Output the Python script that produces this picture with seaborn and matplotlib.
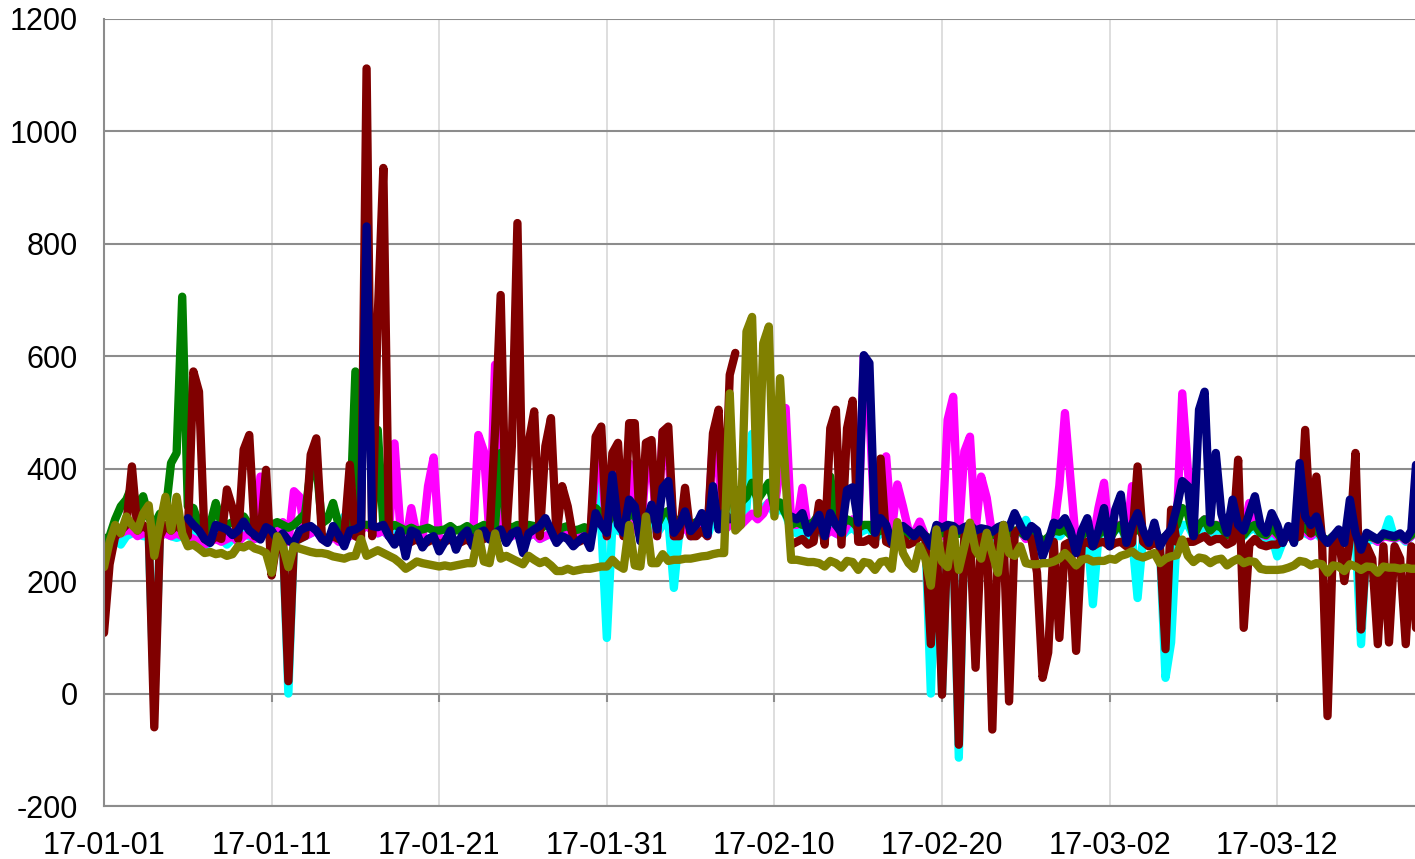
import numpy as np
import pandas as pd
import matplotlib
matplotlib.use("Agg")
import matplotlib.pyplot as plt
import matplotlib.dates as mdates
import seaborn as sns

# readings every 8 hours, starting 2017-01-01 00:00 (one line = 5 days)
start = "2017-01-01"
step = "8h"
x_end = "2017-03-20 05:15"

tick_dates = ["2017-01-01", "2017-01-11", "2017-01-21", "2017-01-31",
              "2017-02-10", "2017-02-20", "2017-03-02", "2017-03-12"]
y_ticks = [-200, 0, 200, 400, 600, 800, 1000, 1200]

series_names = ["Series1", "Series2", "Series3", "Series4", "Series5", "Series6"]
series_colors = ["#00FFFF", "#FF00FF", "#008000", "#800000", "#000080", "#808000"]

nan = np.nan

cyan_vals = [
    270, 265, 275, 265, 280, 285, 285, 280, 280, -20, 280, 285, 280, 277, 280,
    285, 290, 280, 260, 270, 280, 275, 265, 275, 280, 285, 280, 275, 280, 285,
    280, 275, 280, 0, 270, 275, 280, 285, 290, 280, 275, 285, 280, 315, 290,
    290, 295, 300, 290, 285, 290, 280, 285, 280, 270, 275, 280, 270, 275, 280,
    270, 275, 280, 270, 275, 280, 270, 280, 285, 275, 285, 290, 275, 280, 285,
    270, 280, 285, 275, 280, 285, 270, 280, 285, 275, 280, 285, 275, 398, 300,
    99, 300, 290, 285, 300, 300, 280, 300, 310, 285, 300, 310, 188, 290, 300,
    280, 290, 300, 280, 310, 300, 300, 320, 330, 320, 330, 462, 320, 330, 340,
    320, 330, 320, 290, 285, 290, 280, 283, 290, 280, 300, 285, 280, 290, 295,
    285, 290, 295, 275, 285, 290, 270, 280, 285, 280, 280, 285, 280, 0, 280,
    0, 280, 285, -114, 280, 285, 270, 280, 285, 260, 280, 285, 270, 280, 290,
    309, 285, 280, 250, 270, 285, 280, 290, 285, 260, 280, 290, 159, 280, 290,
    286, 290, 300, 270, 280, 170, 280, 270, 285, 260, 28, 91, 280, 300, 300,
    280, 290, 300, 285, 290, 290, 280, 290, 295, 280, 290, 295, 280, 275, 280,
    244, 270, 285, 270, 290, 285, 280, 285, 275, 270, 275, 280, 270, 290, 280,
    88, 270, 275, 270, 280, 310, 275, 280, 270, 280, 290,
]

magenta_vals = [
    270, 275, 280, 285, 290, 290, 280, 285, 285, 270, 280, 285, 280, 285, 280,
    280, 275, 270, 265, 270, 275, 270, 275, 280, 270, 280, 285, 275, 386, 300,
    280, 285, 305, 270, 360, 350, 280, 285, 290, 275, 270, 280, 270, 275, 280,
    285, 290, 300, 290, 285, 290, 280, 445, 300, 270, 330, 280, 275, 369, 420,
    270, 275, 280, 270, 275, 280, 270, 460, 431, 280, 585, 300, 275, 280, 290,
    270, 280, 285, 275, 280, 285, 270, 280, 285, 275, 280, 290, 275, 400, 420,
    280, 380, 400, 280, 410, 300, 280, 400, 420, 280, 466, 430, 280, 285, 300,
    280, 290, 300, 280, 450, 400, 290, 300, 310, 300, 310, 320, 310, 320, 340,
    330, 400, 508, 300, 300, 366, 290, 285, 300, 280, 290, 285, 280, 300, 310,
    290, 600, 500, 290, 300, 422, 290, 372, 333, 290, 285, 306, 280, 270, 285,
    280, 487, 528, 285, 431, 457, 290, 386, 348, 280, 285, 290, 280, 285, 290,
    275, 285, 280, 265, 275, 290, 370, 499, 380, 265, 280, 290, 270, 330, 375,
    270, 300, 300, 275, 369, 300, 280, 270, 290, 270, 280, 290, 300, 534, 398,
    280, 300, 310, 290, 300, 300, 280, 300, 300, 290, 339, 300, 285, 280, 290,
    280, 270, 285, 275, 300, 290, 280, 290, 278, 270, 280, 285, 275, 300, 280,
    265, 280, 278, 270, 280, 278, 276, 280, 272, 280, 300,
]

green_vals = [
    274, 280, 310, 333, 345, 369, 327, 351, 313, 300, 320, 320, 410, 428, 706,
    333, 330, 300, 280, 300, 339, 303, 300, 305, 310, 315, 300, 300, 300, 300,
    300, 305, 300, 295, 300, 310, 320, 398, 410, 303, 310, 339, 300, 295, 300,
    573, 300, 300, 300, 469, 300, 295, 300, 295, 290, 295, 290, 292, 295, 290,
    290, 292, 298, 290, 292, 298, 290, 295, 300, 292, 300, 428, 300, 295, 300,
    295, 300, 298, 292, 300, 295, 290, 295, 298, 290, 292, 296, 290, 330, 320,
    300, 320, 310, 300, 320, 315, 300, 315, 320, 300, 320, 325, 300, 310, 315,
    300, 305, 310, 300, 320, 315, 320, 350, 363, 340, 350, 375, 345, 360, 375,
    330, 340, 320, 300, 305, 300, 300, 305, 320, 300, 386, 300, 300, 310, 305,
    295, 300, 300, 285, 290, 290, 280, 285, 288, 282, 285, 288, 280, 275, 288,
    285, 288, 290, 284, 288, 290, 284, 286, 288, 282, 286, 290, 285, 290, 288,
    280, 285, 282, 270, 278, 290, 288, 292, 282, 268, 280, 292, 275, 282, 295,
    275, 292, 300, 275, 285, 295, 282, 275, 290, 272, 280, 285, 300, 330, 320,
    280, 300, 310, 290, 300, 295, 282, 300, 290, 282, 295, 300, 285, 282, 295,
    285, 272, 288, 275, 300, 295, 285, 292, 278, 272, 280, 285, 275, 300, 280,
    268, 280, 278, 274, 282, 280, 278, 282, 274, 282, 300,
]

maroon_vals = [
    108, 230, 280, 290, 300, 404, 290, 300, 290, -60, 280, 300, 290, 300, 290,
    280, 573, 537, 275, 270, 280, 275, 363, 330, 275, 434, 460, 280, 280, 398,
    210, 275, 280, 22, 270, 275, 280, 425, 454, 280, 275, 280, 275, 280, 407,
    280, 275, 1112, 280, 671, 935, 280, 275, 270, 265, 270, 275, 265, 270, 275,
    265, 270, 275, 265, 270, 275, 265, 270, 275, 280, 469, 709, 280, 440, 837,
    280, 446, 502, 280, 440, 490, 280, 369, 333, 275, 270, 275, 270, 457, 475,
    280, 428, 446, 280, 481, 481, 280, 446, 451, 280, 466, 475, 280, 280, 366,
    280, 280, 290, 280, 463, 505, 290, 567, 606, nan, nan, nan, nan, nan, nan,
    nan, nan, nan, 265, 270, 275, 265, 270, 339, 265, 472, 505, 265, 472, 521,
    270, 270, 275, 265, 418, 270, 265, 270, 275, 265, 270, 280, 280, 88, 285,
    -2, 285, 280, -91, 280, 285, 46, 280, 285, -64, 280, 285, -14, 285, 295,
    285, 275, 215, 28, 73, 270, 99, 265, 270, 76, 265, 270, 262, 268, 270,
    262, 268, 270, 262, 268, 404, 270, 262, 268, 262, 79, 327, 270, 268, 270,
    270, 275, 280, 270, 275, 275, 265, 270, 416, 117, 265, 275, 265, 262, 265,
    265, 275, 280, 275, 280, 469, 285, 386, 275, -40, 275, 280, 200, 275, 428,
    114, 262, 240, 88, 262, 91, 262, 240, 88, 262, 88,
]

navy_vals = [
    nan, nan, nan, nan, nan, nan, nan, nan, nan, nan, nan, nan, nan, nan, nan,
    312, 300, 290, 275, 268, 300, 296, 292, 282, 290, 306, 290, 282, 274, 296,
    290, 274, 285, 272, 268, 290, 295, 298, 290, 275, 268, 298, 282, 262, 290,
    292, 298, 831, 298, 296, 300, 280, 265, 290, 244, 290, 285, 260, 275, 280,
    253, 270, 290, 256, 280, 290, 262, 285, 290, 274, 285, 292, 268, 285, 290,
    250, 285, 292, 298, 312, 290, 268, 280, 275, 262, 272, 280, 259, 321, 300,
    286, 389, 300, 286, 345, 333, 271, 300, 336, 292, 366, 378, 286, 300, 324,
    289, 300, 321, 283, 369, 292, 322, 310, nan, nan, nan, nan, nan, nan, nan,
    nan, nan, nan, 315, 310, 321, 286, 300, 318, 280, 321, 300, 286, 362, 367,
    304, 602, 588, 286, 312, 300, 268, 290, 298, 290, 280, 292, 280, 262, 300,
    295, 300, 298, 290, 296, 300, 290, 294, 292, 288, 296, 300, 295, 321, 300,
    280, 298, 290, 244, 270, 304, 300, 312, 290, 250, 290, 312, 262, 290, 330,
    262, 327, 354, 268, 300, 321, 290, 268, 304, 262, 280, 292, 330, 378, 369,
    280, 505, 537, 304, 428, 320, 286, 345, 300, 290, 321, 351, 300, 286, 321,
    300, 268, 298, 268, 410, 315, 300, 315, 280, 268, 280, 292, 268, 345, 286,
    256, 286, 280, 274, 285, 282, 280, 285, 274, 290, 430,
]

olive_vals = [
    225, 270, 300, 285, 315, 300, 290, 320, 335, 245, 300, 350, 290, 350, 285,
    262, 265, 258, 250, 252, 248, 250, 245, 248, 262, 260, 265, 258, 255, 250,
    215, 280, 262, 225, 262, 258, 255, 252, 250, 250, 248, 244, 242, 240, 244,
    245, 275, 245, 250, 255, 250, 245, 240, 232, 222, 228, 235, 232, 230, 228,
    226, 228, 226, 228, 230, 232, 232, 285, 235, 232, 285, 240, 245, 240, 235,
    230, 245, 238, 232, 236, 228, 218, 218, 222, 218, 220, 222, 222, 224, 226,
    226, 238, 228, 222, 300, 228, 226, 315, 232, 232, 248, 236, 238, 238, 240,
    240, 242, 244, 245, 248, 250, 250, 534, 290, 300, 644, 670, 320, 623, 653,
    315, 561, 380, 238, 238, 236, 234, 234, 232, 226, 236, 232, 224, 236, 234,
    220, 234, 232, 220, 234, 236, 222, 305, 250, 232, 222, 262, 240, 192, 292,
    235, 225, 292, 220, 262, 304, 255, 240, 286, 250, 215, 300, 250, 245, 262,
    232, 230, 230, 232, 232, 235, 240, 250, 240, 228, 238, 240, 235, 236, 236,
    240, 238, 245, 248, 253, 245, 242, 246, 250, 232, 240, 244, 246, 274, 245,
    234, 242, 240, 232, 238, 240, 228, 235, 240, 232, 236, 234, 222, 220, 220,
    220, 221, 224, 228, 236, 234, 228, 232, 230, 215, 228, 226, 218, 230, 226,
    220, 226, 225, 215, 226, 224, 224, 222, 224, 222, 222,
]

all_vals = [cyan_vals, magenta_vals, green_vals, maroon_vals, navy_vals, olive_vals]

grid_dark = "#8c8c8c"
grid_light = "#d4d4d4"

sns.set_style("white")
plt.rcParams["font.family"] = ["Liberation Sans", "DejaVu Sans"]
plt.rcParams["axes.unicode_minus"] = False

# long table, one unit per unbroken run of values
frames = []
for name, vals in zip(series_names, all_vals):
    v = pd.Series(vals, dtype=float)
    times = pd.date_range(start, periods=len(v), freq=step)
    df = pd.DataFrame({"time": times, "value": v, "series": name,
                       "unit": name + "_" + v.isna().cumsum().astype(str)})
    frames.append(df.dropna())
data = pd.concat(frames, ignore_index=True)

fig = plt.figure(figsize=(14.15, 8.59), dpi=100)
ax = fig.add_axes([104 / 1415, 53 / 859, 1311 / 1415, 787 / 859])
ax.set_axisbelow(True)

sns.lineplot(data=data, x="time", y="value", hue="series", units="unit",
             estimator=None, hue_order=series_names,
             palette=dict(zip(series_names, series_colors)),
             linewidth=6.0, legend=False, ax=ax,
             solid_joinstyle="round", solid_capstyle="round")

tick_ts = pd.to_datetime(tick_dates)
ax.set_xlim(pd.Timestamp(start), pd.Timestamp(x_end))
ax.set_ylim(y_ticks[0], y_ticks[-1])
ax.set_xticks(tick_ts)
ax.xaxis.set_major_formatter(mdates.DateFormatter("%y-%m-%d"))
ax.set_yticks(y_ticks)
ax.set_xlabel("")
ax.set_ylabel("")

ax.yaxis.grid(True, color=grid_dark, linewidth=1.5)
ax.xaxis.grid(True, color=grid_light, linewidth=1.1)
for side in ["top", "right"]:
    ax.spines[side].set_visible(False)
for side in ["left", "bottom"]:
    ax.spines[side].set_color(grid_dark)
    ax.spines[side].set_linewidth(1.5)

ax.tick_params(axis="y", direction="out", length=6.5, width=1.5,
               color=grid_dark, labelsize=22, pad=12.5, labelcolor="black")
ax.tick_params(axis="x", length=0, labelsize=22, pad=18, labelcolor="black")

# category axis crosses at zero: short tick marks hanging from the zero line
zero_pos = (0 - y_ticks[0]) / (y_ticks[-1] - y_ticks[0])
tick_len = 8 / 787
ax.vlines(tick_ts, zero_pos - tick_len, zero_pos, transform=ax.get_xaxis_transform(),
          colors=grid_dark, linewidth=1.5, zorder=1)

fig.savefig("out.png", dpi=100)
